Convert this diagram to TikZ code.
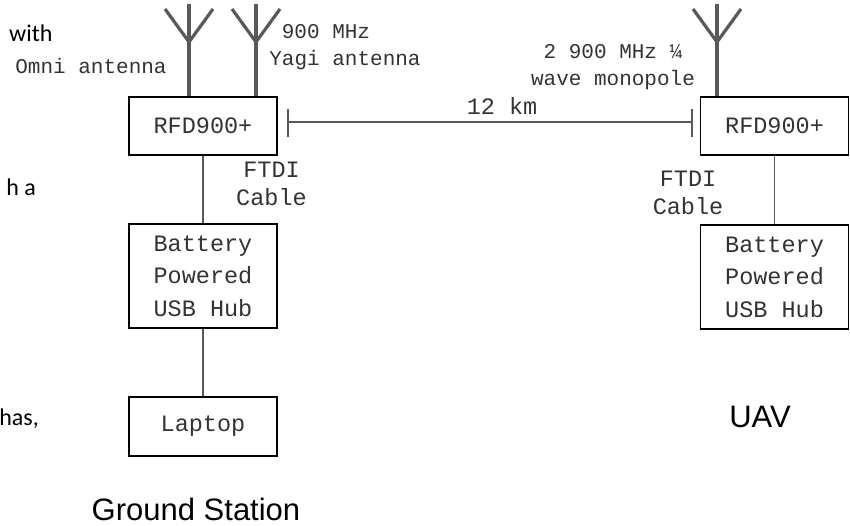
\documentclass[tikz,border=0pt]{standalone}
\usepackage{fontspec}
\setmainfont{Liberation Sans}
\newfontfamily\monofam{Liberation Mono}
\newfontfamily\bodyfam{Carlito}
\definecolor{linegray}{HTML}{595959}
\definecolor{textgray}{HTML}{333333}
\tikzset{
  unitbox/.style={draw=black,line width=1.5pt,fill=white,minimum width=148pt,inner sep=0pt,align=center,text=textgray,font=\monofam\fontsize{23.5}{32.5}\selectfont},
  wire/.style={draw=linegray,line width=1.5pt},
  mast/.style={draw=linegray,line width=3.6pt},
  prong/.style={draw=linegray,line width=3.2pt},
  bigmono/.style={text=textgray,inner sep=0pt,align=center,font=\monofam\fontsize{23.5}{32}\selectfont},
  smallmono/.style={text=textgray,inner sep=0pt,align=center,font=\monofam\fontsize{21}{26}\selectfont},
  caption/.style={text=black,inner sep=0pt,font=\fontsize{31}{36}\selectfont},
  cutoff/.style={text=black,inner sep=0pt,font=\bodyfam\fontsize{24}{28}\selectfont},
}
\begin{document}
\begin{tikzpicture}[x=1pt,y=-1pt]
\useasboundingbox (0,0) rectangle (850,525);
% boxes
\node[unitbox,minimum height=58pt] (rfdL) at (203,126) {\raisebox{-3pt}{RFD900+}};
\node[unitbox,minimum height=104pt] (hubL) at (203,276) {Battery\\Powered\\USB Hub};
\node[unitbox,minimum height=59pt] (lap) at (203,426.5) {\raisebox{-8pt}{Laptop}};
\node[unitbox,minimum height=58pt] (rfdR) at (774.5,126) {\raisebox{-3pt}{RFD900+}};
\node[unitbox,minimum height=104pt] (hubR) at (774.5,277) {Battery\\Powered\\USB Hub};
% cables
\draw[wire] (rfdL.south) -- (hubL.north);
\draw[wire] (hubL.south) -- (lap.north);
\draw[wire] (rfdR.south) -- (hubR.north);
% antennas
\coordinate (a1) at (189,42); \coordinate (a1t) at (189,4); \coordinate (a1l) at (165,9); \coordinate (a1r) at (213,9); \coordinate (a1b) at (189,96);
\coordinate (a2) at (256,42); \coordinate (a2t) at (256,4); \coordinate (a2l) at (232,9); \coordinate (a2r) at (280,9); \coordinate (a2b) at (256,96);
\coordinate (a3) at (717,42); \coordinate (a3t) at (717,4); \coordinate (a3l) at (693,9); \coordinate (a3r) at (741,9); \coordinate (a3b) at (717,96);
\foreach \k in {a1,a2,a3}{
  \draw[mast] (\k b) -- (\k);
  \draw[prong] (\k t) -- (\k);
  \draw[prong] (\k l) -- (\k) -- (\k r);
}
% range
\coordinate (rangeL) at (288,122); \coordinate (rangeR) at (692,122);
\coordinate (tLa) at (288,109); \coordinate (tLb) at (288,137);
\coordinate (tRa) at (692,109); \coordinate (tRb) at (692,137);
\draw[wire] (rangeL) -- (rangeR);
\draw[wire] (tLa) -- (tLb);
\draw[wire] (tRa) -- (tRb);
% labels
\node[bigmono,anchor=base] (km) at (502,114) {12 km};
\node[smallmono,anchor=base] (omni) at (91,73) {Omni antenna};
\node[smallmono,anchor=base] (mhz) at (326,38) {900 MHz};
\node[smallmono,anchor=base] (yagi) at (345,65) {Yagi antenna};
\node[smallmono,anchor=base] (mono1) at (613,58) {2 900 MHz ¼};
\node[smallmono,anchor=base] (mono2) at (613,85) {wave monopole};
\node[bigmono,anchor=base] (f1) at (271.5,177) {FTDI};
\node[bigmono,anchor=base] (c1) at (271.5,205) {Cable};
\node[bigmono,anchor=base] (f2) at (688,186) {FTDI};
\node[bigmono,anchor=base] (c2) at (688,214) {Cable};
\node[caption,anchor=base] (gs) at (196,520) {Ground Station};
\node[caption,anchor=base] (uav) at (760,427) {UAV};
\node[cutoff,anchor=base west] (w1) at (9,41) {with};
\node[cutoff,anchor=base east] (w2) at (36,195) {h a};
\node[cutoff,anchor=base east] (w3) at (39,425) {has,};
\end{tikzpicture}
\end{document}
